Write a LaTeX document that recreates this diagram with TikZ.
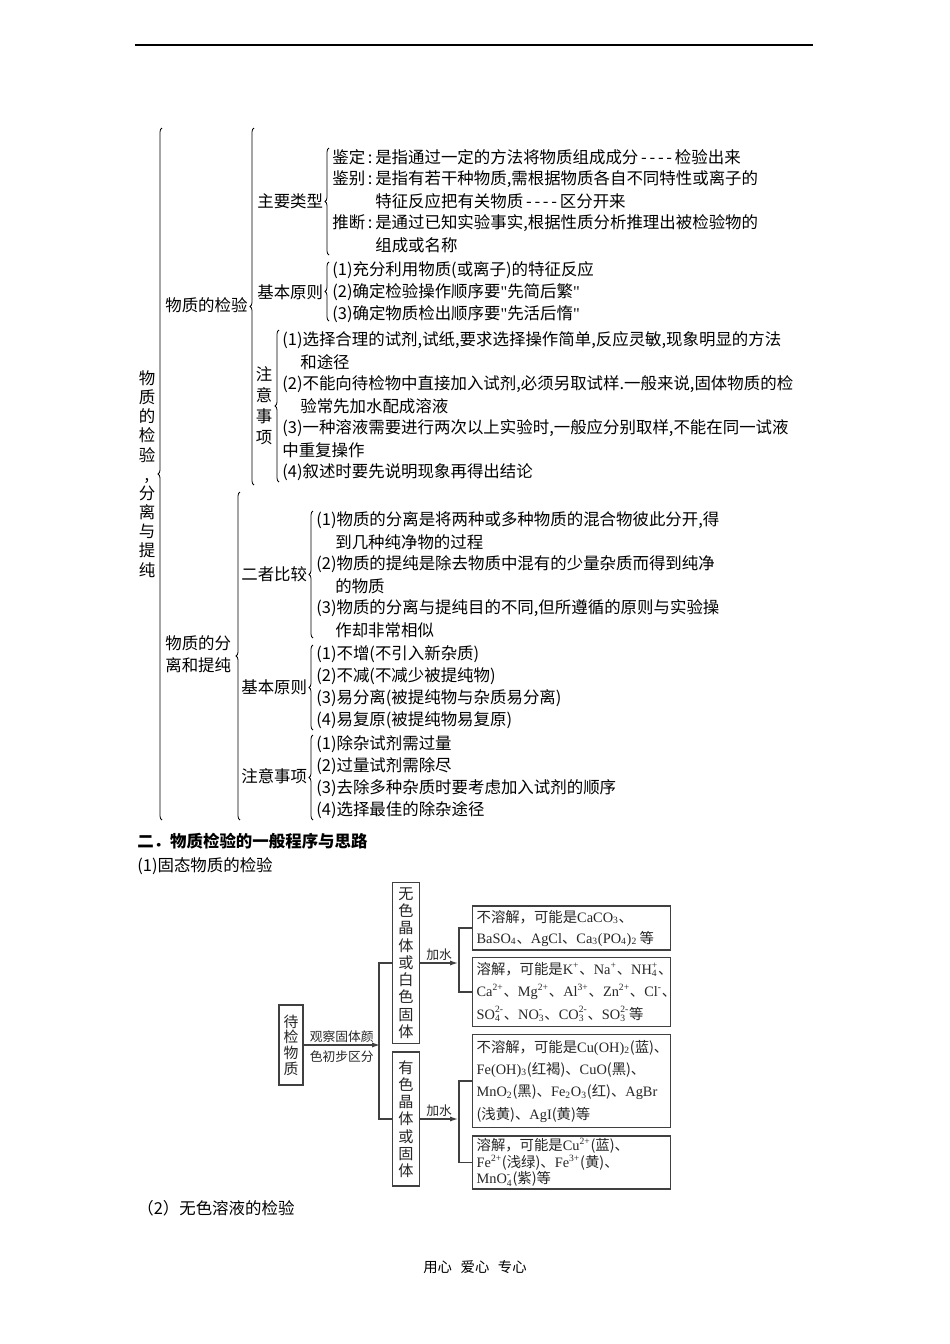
\documentclass[tikz,border=0pt]{standalone}
\usepackage{fontspec}
\usepackage{amsmath}
\setmainfont{Noto Sans CJK SC}
\newfontfamily\latf{Liberation Serif}
\usetikzlibrary{arrows.meta, decorations.pathreplacing, positioning}
\newcommand\ch[1]{{\latf #1}}
\newcommand\sbp[2]{\ensuremath{{}_{\text{#1}}^{\text{#2}}}}
\newcommand\qt{{\latf "}}

\begin{document}
\begin{tikzpicture}[x=0.6263pt, y=-0.6263pt,
    txt/.style={anchor=west, inner sep=0pt, font=\fontsize{10.3}{12}\selectfont},
    vtxt/.style={inner sep=0pt, align=center, font=\fontsize{10.3}{13.2}\selectfont},
    brc/.style={decorate, decoration={brace, amplitude=2.5pt}, line width=0.5pt},
    vbox/.style={draw=black!75, line width=0.8pt, inner sep=0pt, align=center, text=black!85, minimum width=16.9pt, font=\fontsize{9.5}{10.8}\selectfont},
    rbox/.style={draw=black!75, line width=0.8pt, anchor=west, inner xsep=2.5pt, inner ysep=0pt, text width=119pt, align=left, text=black!85, font=\fontsize{9}{14}\selectfont},
    fline/.style={draw=black!75, line width=0.8pt},
    farrow/.style={fline, -{Latex[length=5pt, width=3.2pt]}},
    small/.style={inner sep=1pt, text=black!85, font=\fontsize{8}{10}\selectfont}
]
\path[use as bounding box, fill=white] (0,0) rectangle (950,1344);

% page rule
\coordinate (rl) at (135,45);
\coordinate (rr) at (813,45);
\draw[line width=1.2pt] (rl) -- (rr);

% outer brace
\node[vtxt, font=\fontsize{10.3}{12}\selectfont] (root) at (147,474) {物\\质\\的\\检\\验\\,\\分\\离\\与\\提\\纯};
\draw[brc] (162,820) -- (162,128);

% ---- 物质的检验 ----
\node[txt] (jy) at (165,305) {物质的检验};
\draw[brc] (254,485) -- (254,128);

\node[txt] (zy) at (257,201) {主要类型};
\draw[brc] (329,255) -- (329,148);
\node[txt] (jd) at (332,157) {鉴定\,:\,是指通过一定的方法将物质组成成分\,-\,-\,-\,-\,检验出来};
\node[txt] (jb) at (332,179) {鉴别\,:\,是指有若干种物质,需根据物质各自不同特性或离子的};
\node[txt] (jb2) at (375,201) {特征反应把有关物质\,-\,-\,-\,-\,区分开来};
\node[txt] (td) at (332,223) {推断\,:\,是通过已知实验事实,根据性质分析推理出被检验物的};
\node[txt] (td2) at (375,245) {组成或名称};

\node[txt] (yz) at (257,292) {基本原则};
\draw[brc] (329,321) -- (329,262);
\node[txt] (yz1) at (332,270) {(1)充分利用物质(或离子)的特征反应};
\node[txt] (yz2) at (332,292) {(2)确定检验操作顺序要\qt 先简后繁\qt};
\node[txt] (yz3) at (332,314) {(3)确定物质检出顺序要\qt 先活后惰\qt};

\node[vtxt] (zs) at (264,406) {注\\意\\事\\项};
\draw[brc] (279,482) -- (279,330);
\node[txt] (zs1) at (282,340) {(1)选择合理的试剂,试纸,要求选择操作简单,反应灵敏,现象明显的方法};
\node[txt] (zs1b) at (300,362) {和途径};
\node[txt] (zs2) at (282,384) {(2)不能向待检物中直接加入试剂,必须另取试样.一般来说,固体物质的检};
\node[txt] (zs2b) at (300,406) {验常先加水配成溶液};
\node[txt] (zs3) at (282,428) {(3)一种溶液需要进行两次以上实验时,一般应分别取样,不能在同一试液};
\node[txt] (zs3b) at (282,450) {中重复操作};
\node[txt] (zs4) at (282,472) {(4)叙述时要先说明现象再得出结论};

% ---- 物质的分离和提纯 ----
\node[txt, align=left, font=\fontsize{10.3}{13.8}\selectfont] (fl) at (165,654) {物质的分\\离和提纯};
\draw[brc] (240,820) -- (240,492);

\node[txt] (bj) at (241,574) {二者比较};
\draw[brc] (313,638) -- (313,511);
\node[txt] (bj1) at (316,520) {(1)物质的分离是将两种或多种物质的混合物彼此分开,得};
\node[txt] (bj1b) at (335,542) {到几种纯净物的过程};
\node[txt] (bj2) at (316,564) {(2)物质的提纯是除去物质中混有的少量杂质而得到纯净};
\node[txt] (bj2b) at (335,586) {的物质};
\node[txt] (bj3) at (316,608) {(3)物质的分离与提纯目的不同,但所遵循的原则与实验操};
\node[txt] (bj3b) at (335,630) {作却非常相似};

\node[txt] (yb) at (241,687) {基本原则};
\draw[brc] (313,730) -- (313,645);
\node[txt] (yb1) at (316,654) {(1)不增(不引入新杂质)};
\node[txt] (yb2) at (316,676) {(2)不减(不减少被提纯物)};
\node[txt] (yb3) at (316,698) {(3)易分离(被提纯物与杂质易分离)};
\node[txt] (yb4) at (316,720) {(4)易复原(被提纯物易复原)};

\node[txt] (zb) at (241,776) {注意事项};
\draw[brc] (313,820) -- (313,735);
\node[txt] (zb1) at (316,744) {(1)除杂试剂需过量};
\node[txt] (zb2) at (316,766) {(2)过量试剂需除尽};
\node[txt] (zb3) at (316,788) {(3)去除多种杂质时要考虑加入试剂的顺序};
\node[txt] (zb4) at (316,810) {(4)选择最佳的除杂途径};

% headings
\node[txt, font=\fontsize{10.3}{12}\selectfont\bfseries] (h2) at (137,841) {二．物质检验的一般程序与思路};
\node[txt] (h21) at (137,866) {(1)固态物质的检验};

% ---- flow chart ----
\node[vbox, minimum width=15pt, minimum height=50.1pt, font=\fontsize{9.3}{9.8}\selectfont] (dj) at (291,1045) {待\\检\\物\\质};
\node[vbox, minimum height=100.8pt] (wu) at (406,963) {无\\色\\晶\\体\\或\\白\\色\\固\\体};
\node[vbox, minimum height=84pt] (you) at (406,1119) {有\\色\\晶\\体\\或\\固\\体};

\node[rbox, minimum height=27.6pt, font=\fontsize{9}{13.2}\selectfont] (b1) at (472,928)
  {不溶解，可能是\ch{CaCO\textsubscript{3}}、\\
   \mbox{\ch{BaSO\textsubscript{4}}、\ch{AgCl}、\ch{Ca\textsubscript{3}(PO\textsubscript{4})\textsubscript{2}}\,等}};
\node[rbox, minimum height=43.2pt] (b2) at (472,992)
  {溶解，可能是\ch{K\textsuperscript{+}}、\ch{Na\textsuperscript{+}}、\ch{NH\sbp{4}{+}}、\\
   \ch{Ca\textsuperscript{2+}}、\ch{Mg\textsuperscript{2+}}、\ch{Al\textsuperscript{3+}}、\ch{Zn\textsuperscript{2+}}、\ch{Cl\textsuperscript{-}}、\\
   \ch{SO\sbp{4}{2-}}、\ch{NO\sbp{3}{-}}、\ch{CO\sbp{3}{2-}}、\ch{SO\sbp{3}{2-}}等};
\node[rbox, minimum height=58.2pt] (b3) at (472,1081)
  {不溶解，可能是\ch{Cu(OH)\textsubscript{2}}(蓝)、\\
   \ch{Fe(OH)\textsubscript{3}}(红褐)、\ch{CuO}(黑)、\\
   \ch{MnO\textsubscript{2}}(黑)、\ch{Fe\textsubscript{2}O\textsubscript{3}}(红)、\ch{AgBr}\\
   (浅黄)、\ch{AgI}(黄)等};
\node[rbox, minimum height=33.2pt, font=\fontsize{9}{10.3}\selectfont] (b4) at (472,1162.5)
  {溶解，可能是\ch{Cu\textsuperscript{2+}}(蓝)、\\
   \ch{Fe\textsuperscript{2+}}(浅绿)、\ch{Fe\textsuperscript{3+}}(黄)、\\
   \ch{MnO\sbp{4}{-}}(紫)等};

\coordinate (sp0) at (380,1045);
\coordinate (sp1) at (458,963);
\coordinate (sp2) at (458,1119);

\draw[farrow] (dj.east) -- node[small, above] (gc1) {观察固体颜} node[small, below=2pt] (gc2) {色初步区分} (sp0);
\draw[fline] (wu.west) -- ++(-13,0) |- (you.west);
\draw[farrow] (wu.east) -- node[small, above] (js1) {加水} (sp1);
\draw[fline] (b1.west) -- ++(-13,0) |- (b2.west);
\draw[farrow] (you.east) -- node[small, above] (js2) {加水} (sp2);
\draw[fline] (b3.west) -- ++(-13,0) |- (b4.west);

% tail
\node[txt] (h22) at (137,1208) {（2）无色溶液的检验};
\node[font=\fontsize{9}{10}\selectfont, inner sep=0pt] (ft) at (475,1267) {用心\hspace{0.6em}爱心\hspace{0.6em}专心};

\end{tikzpicture}
\end{document}
